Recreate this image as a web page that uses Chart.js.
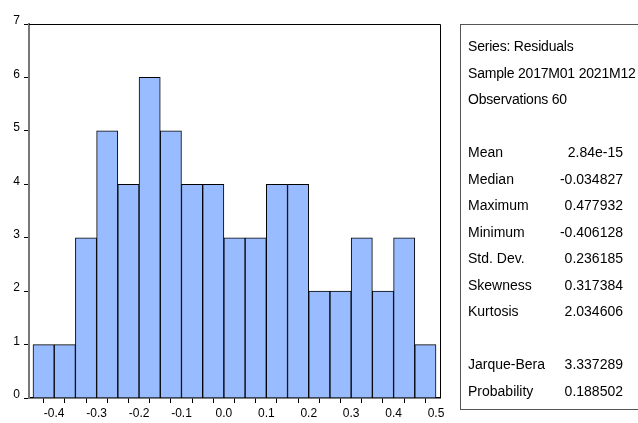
<!DOCTYPE html>
<html>
<head>
<meta charset="utf-8">
<script src="https://cdn.jsdelivr.net/npm/chart.js@4.4.1/dist/chart.umd.min.js"></script>
<style>
  html, body { margin: 0; padding: 0; background: #fff; }
  #wrap { position: relative; width: 638px; height: 423px; overflow: hidden; }
  #histChart { position: absolute; left: 0; top: 0; }
  #stats {
    position: absolute; left: 460px; top: 24px; width: 190px; height: 386px;
    border: 1px solid #555; box-sizing: border-box;
    font-family: "Liberation Sans", Arial, sans-serif; font-size: 14px; color: #000;
  }
  .row { position: absolute; left: 7px; width: 155px; height: 18px; line-height: 18px; white-space: nowrap; }
  .row.head { letter-spacing: -0.2px; }
  .row .v { position: absolute; right: 0; top: 0; }
</style>
</head>
<body>
<div id="wrap">
  <canvas id="histChart" width="638" height="423"></canvas>
  <div id="stats"></div>
</div>
<script>
// =============== DATA ===============
const binCenters = [-0.425, -0.375, -0.325, -0.275, -0.225, -0.175, -0.125, -0.075, -0.025,
                    0.025, 0.075, 0.125, 0.175, 0.225, 0.275, 0.325, 0.375, 0.425, 0.475];
const binCounts = [1, 1, 3, 5, 4, 6, 5, 4, 4, 3, 3, 4, 4, 2, 2, 3, 2, 3, 1];

const xTickValues = [-0.45, -0.4, -0.35, -0.3, -0.25, -0.2, -0.15, -0.1, -0.05, 0,
                     0.05, 0.1, 0.15, 0.2, 0.25, 0.3, 0.35, 0.4, 0.45, 0.5];
const xTickLabels = ["", "-0.4", "", "-0.3", "", "-0.2", "", "-0.1", "", "0.0",
                     "", "0.1", "", "0.2", "", "0.3", "", "0.4", "", "0.5"];
const yTickValues = [0, 1, 2, 3, 4, 5, 6, 7];

const headerLines = ["Series: Residuals", "Sample 2017M01 2021M12", "Observations 60"];
const statNames = ["Mean", "Median", "Maximum", "Minimum", "Std. Dev.", "Skewness", "Kurtosis"];
const statValues = ["2.84e-15", "-0.034827", "0.477932", "-0.406128", "0.236185", "0.317384", "2.034606"];
const testNames = ["Jarque-Bera", "Probability"];
const testValues = ["3.337289", "0.188502"];

// =============== STATS PANEL ===============
const panel = document.getElementById("stats");
const rowStep = 26.5;
function addRow(idx, label, value) {
  const div = document.createElement("div");
  div.className = value === undefined ? "row head" : "row";
  div.style.top = (12 + idx * rowStep) + "px";
  div.textContent = label;
  if (value !== undefined) {
    const v = document.createElement("span");
    v.className = "v";
    v.textContent = value;
    div.appendChild(v);
  }
  panel.appendChild(div);
}
headerLines.forEach((t, i) => addRow(i, t));
statNames.forEach((t, i) => addRow(4 + i, t, statValues[i]));
testNames.forEach((t, i) => addRow(12 + i, t, testValues[i]));

// =============== CHART ===============
// top + right frame lines of the plot box
const frame = {
  id: "frame",
  afterDraw(chart) {
    const { ctx, chartArea: a } = chart;
    ctx.save();
    ctx.strokeStyle = "#000";
    ctx.lineWidth = 1;
    ctx.beginPath();
    ctx.moveTo(a.left, a.top + 0.5);
    ctx.lineTo(a.right + 0.5, a.top + 0.5);
    ctx.lineTo(a.right + 0.5, a.bottom);
    ctx.stroke();
    ctx.restore();
  }
};

const axisFont = { family: "'Liberation Sans', Arial, sans-serif", size: 12 };

new Chart(document.getElementById("histChart"), {
  type: "bar",
  data: {
    datasets: [{
      data: binCenters.map((c, i) => ({ x: c, y: binCounts[i] })),
      backgroundColor: "#99bbff",
      borderColor: "#000",
      borderWidth: 1,
      barPercentage: 1.0,
      categoryPercentage: 1.0,
    }],
  },
  options: {
    responsive: false,
    animation: false,
    events: [],
    layout: { padding: { top: 24, right: 198, left: 0, bottom: 0 } },
    plugins: { legend: { display: false }, tooltip: { enabled: false } },
    scales: {
      x: {
        type: "linear",
        min: -0.4594,
        max: 0.5094,
        offset: false,
        afterBuildTicks: (s) => { s.ticks = xTickValues.map(v => ({ value: v })); },
        afterFit: (s) => { s.height = 25; },
        ticks: {
          autoSkip: false,
          maxRotation: 0,
          padding: 3,
          color: "#000",
          font: axisFont,
          callback: (value, index) => xTickLabels[index],
        },
        grid: { drawOnChartArea: false, drawTicks: true, tickLength: 5, color: "#000" },
        border: { display: true, color: "#000", width: 1.5 },
      },
      y: {
        min: 0,
        max: 7,
        afterBuildTicks: (s) => { s.ticks = yTickValues.map(v => ({ value: v })); },
        afterFit: (s) => { s.width = 29; },
        ticks: { padding: 4, color: "#000", font: axisFont, labelOffset: -3 },
        grid: { drawOnChartArea: false, drawTicks: true, tickLength: 5, color: "#000" },
        border: { display: true, color: "#777", width: 2 },
      },
    },
  },
  plugins: [frame],
});
</script>
</body>
</html>
